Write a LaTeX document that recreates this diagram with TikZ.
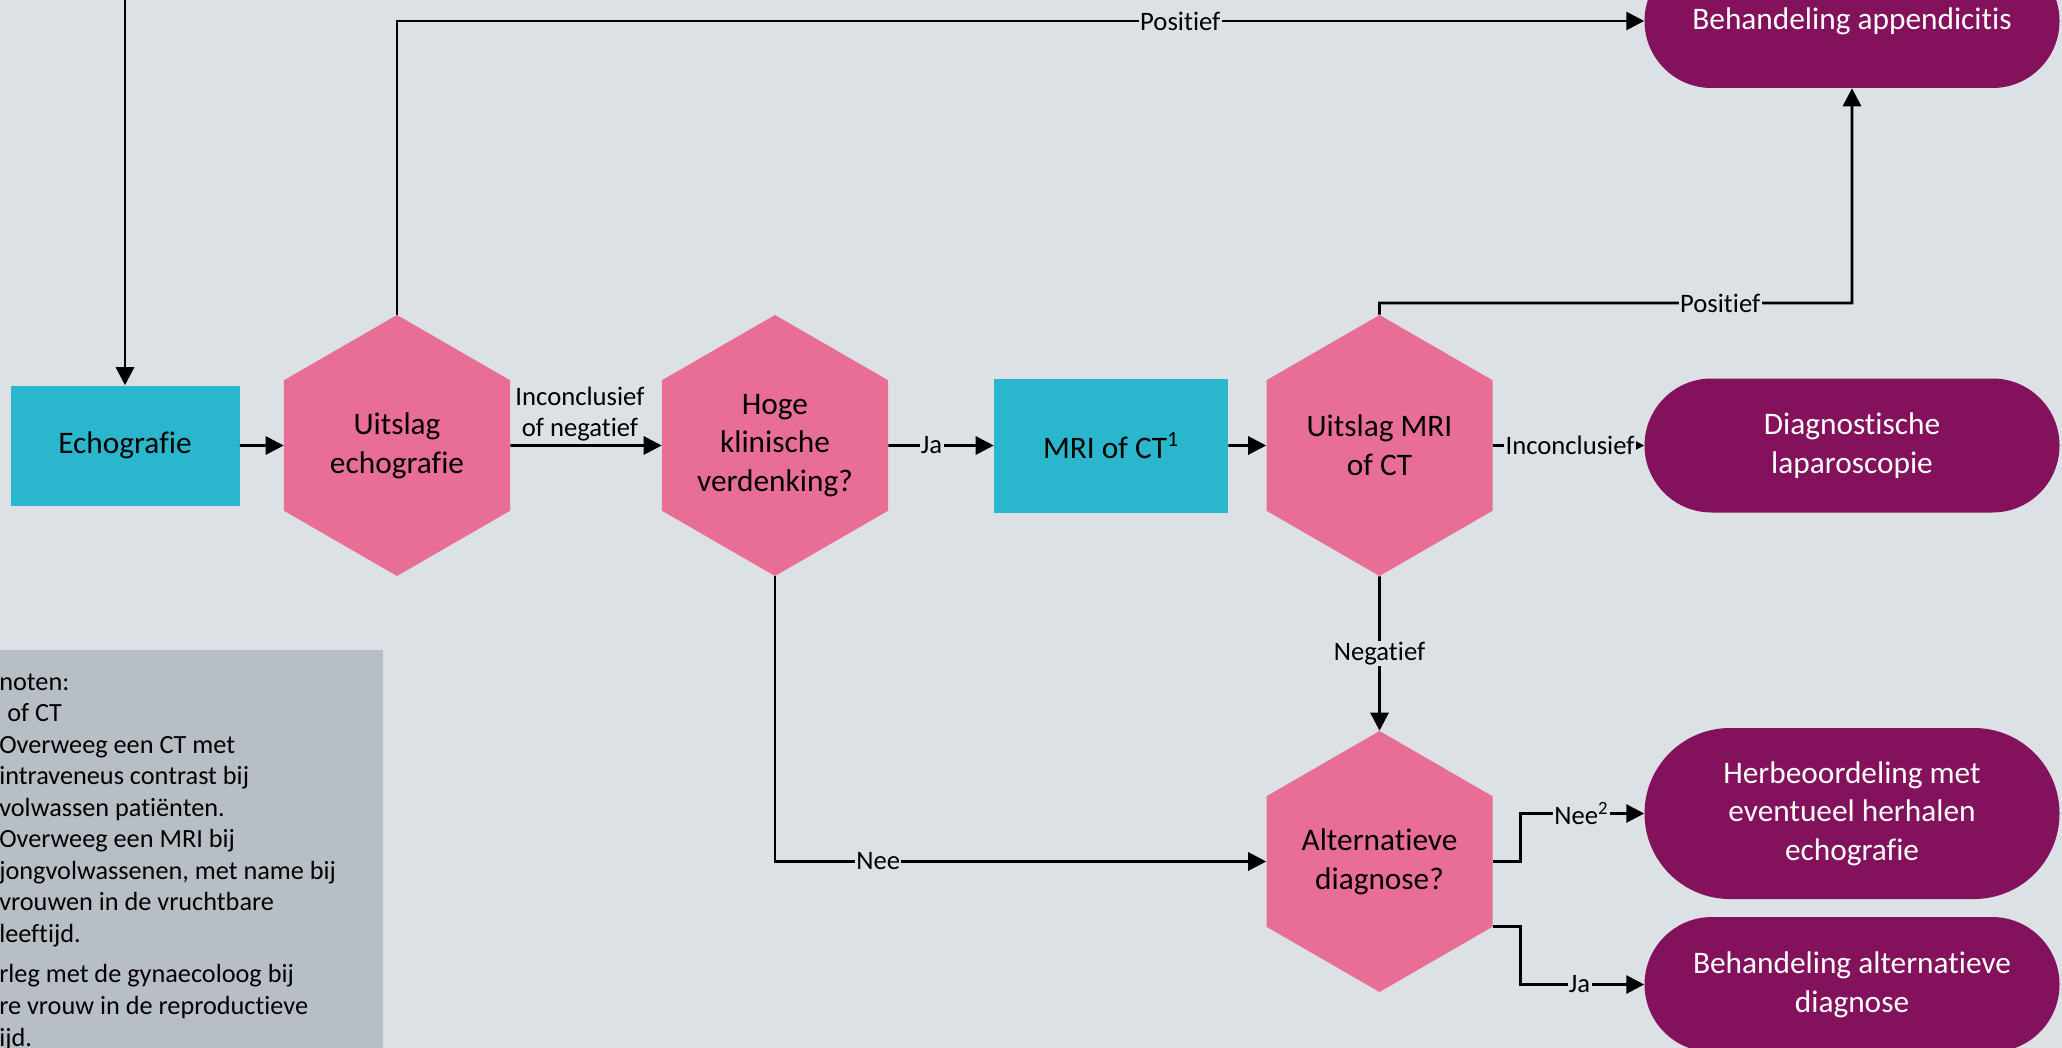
\documentclass[tikz,border=0pt]{standalone}
\usepackage{fontspec}
\setmainfont{Carlito}[Ligatures={NoCommon,NoContextual}]
\usetikzlibrary{shapes.geometric,shapes.misc,arrows.meta,calc}
\definecolor{bg}{RGB}{220,225,229}
\definecolor{cyanbox}{RGB}{42,183,206}
\definecolor{hexpink}{RGB}{232,110,150}
\definecolor{endpurple}{RGB}{132,17,92}
\definecolor{notegray}{RGB}{184,190,197}
\begin{document}
\begin{tikzpicture}[x=0.75pt,y=-0.75pt,
 font=\fontsize{23.5pt}{29pt}\selectfont,
 proc/.style={fill=cyanbox, inner sep=0pt, align=center},
 hexa/.style={regular polygon, regular polygon sides=6, shape border rotate=30, fill=hexpink, minimum size=195.75pt, inner sep=0pt, align=center},
 term/.style={rounded rectangle, fill=endpurple, text=white, minimum width=311.25pt, inner sep=0pt, align=center},
 conn/.style={line width=2.2pt, -{Triangle[length=13.5pt,width=13.5pt]}},
 lbl/.style={font=\fontsize{20pt}{23.6pt}\selectfont, fill=bg, inner sep=1pt},
 notetext/.style={font=\fontsize{19.7pt}{23.6pt}\selectfont, anchor=base west, inner sep=0pt},
]
\fill[bg] (0,0) rectangle (2062,1048);
\useasboundingbox (0,0) rectangle (2062,1048);

% footnote panel
\fill[notegray] (0,650) rectangle (383,1048);
\foreach \t/\yy [count=\i] in {noten:/690, {\hspace{6pt}of CT}/721.5, Overweeg een CT met/753, intraveneus contrast bij/784.5, volwassen patiënten./816, Overweeg een MRI bij/847.5, {jongvolwassenen, met name bij}/879, vrouwen in de vruchtbare/910.5, leeftijd./942, rleg met de gynaecoloog bij/982, re vrouw in de reproductieve/1014, ijd./1046}
  \node[notetext] (note\i) at (-1,\yy) {\t};

% nodes
\node[proc, minimum width=171.75pt, minimum height=90pt] (echo) at (125,445.5) {Echografie};
\node[hexa] (h1) at (397,445.5) {Uitslag\\echografie};
\node[hexa] (h2) at (775,445.5) {Hoge\\klinische\\verdenking?};
\node[proc, minimum width=175.5pt, minimum height=100.5pt] (mri) at (1111,445.5) {MRI of CT\textsuperscript{1}};
\node[hexa] (h3) at (1379.5,445.5) {Uitslag MRI\\of CT};
\node[hexa] (h4) at (1379.5,861.5) {Alternatieve\\diagnose?};
\node[term, minimum height=100.5pt] (app) at (1852,21) {Behandeling appendicitis};
\node[term, minimum height=100.5pt] (lap) at (1852,445.5) {Diagnostische\\laparoscopie};
\node[term, minimum height=128.25pt] (herb) at (1852,813.5) {Herbeoordeling met\\eventueel herhalen\\echografie};
\node[term, minimum height=101.25pt] (alt) at (1852,984.5) {Behandeling alternatieve\\diagnose};

% connectors
\coordinate (topin) at (125,-3);
\coordinate (p3) at (1379.5,303);
\coordinate (p4) at (1852,303);
\draw[conn] (topin) -- (echo.north);
\draw[conn] (echo.east) -- (h1.west);
\draw[conn] (h1.north) |- node[lbl,pos=0.814]{Positief} (app.west);
\draw[conn] (h1.east) -- node[lbl, above=1pt, fill=none, align=center, pos=0.46]{Inconclusief\\of negatief} (h2.west);
\draw[conn] (h2.east) -- node[lbl,pos=0.41]{Ja} (mri.west);
\draw[conn] (mri.east) -- (h3.west);
\draw[conn] (h3.north) -- (p3) -- node[lbl,pos=0.721]{Positief} (p4) -- (app.south);
\draw[conn] (h3.east) -- node[lbl,pos=0.51]{Inconclusief} (lap.west);
\draw[conn] (h3.south) -- node[lbl]{Negatief} (h4.north);
\draw[conn] (h2.south) |- node[lbl,pos=0.605]{Nee} (h4.west);
\draw[conn] (h4.east) -- ++(28,0) |- node[lbl,pos=0.745]{Nee\textsuperscript{2}} (herb.west);
\draw[conn] ($(h4.east)+(0,65.25)$) -- ++(28,0) |- node[lbl,pos=0.738]{Ja} (alt.west);
\end{tikzpicture}
\end{document}
